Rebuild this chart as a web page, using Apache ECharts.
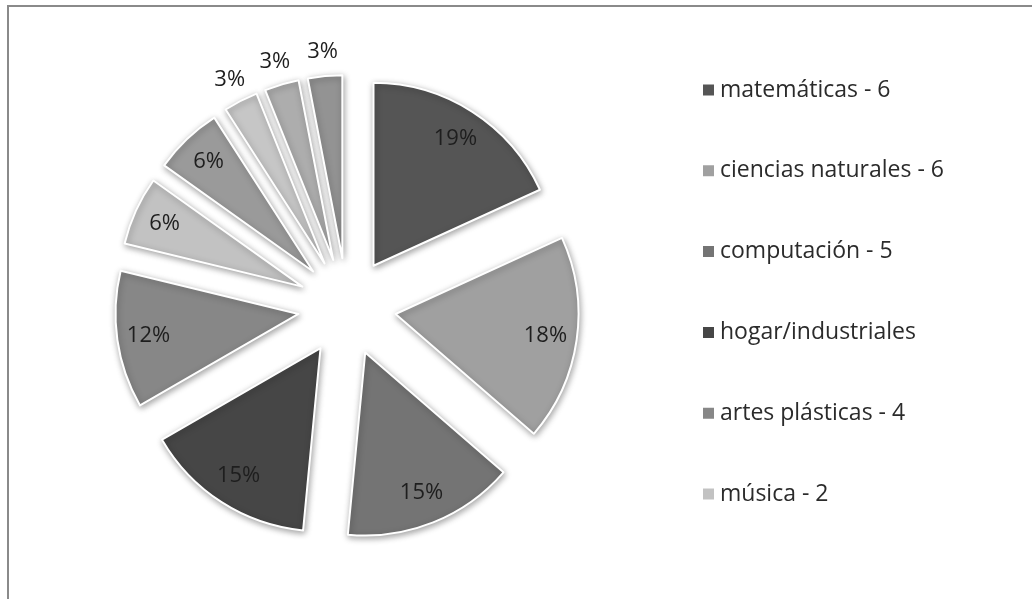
<!DOCTYPE html>
<html>
<head>
<meta charset="utf-8">
<script src="https://cdn.jsdelivr.net/npm/echarts@6/dist/echarts.min.js"></script>
<style>
html,body{margin:0;padding:0;background:#fff;}
#chart{width:1032px;height:599px;}
</style>
</head>
<body>
<div id="chart"></div>
<script>
// Data (legend shows only the first six categories)
const categories = ['matemáticas - 6', 'ciencias naturales - 6', 'computación - 5', 'hogar/industriales', 'artes plásticas - 4', 'música - 2', 'otra 7', 'otra 8', 'otra 9', 'otra 10'];
const values = [6, 6, 5, 5, 4, 2, 2, 1, 1, 1];
const legendItems = categories.slice(0, 6);
const sliceColors = ['#555555', '#a0a0a0', '#747474', '#464646', '#878787', '#c2c2c2', '#9a9a9a', '#c6c6c6', '#adadad', '#939393'];

const FONT = '"Open Sans"';
const chart = echarts.init(document.getElementById('chart'), null, {renderer: 'canvas'});

const center = [347, 307];
const offset = 49;

function isSmall(v) { return v <= 1; }

const mainData = categories.map((n, i) => ({name: n, value: values[i], selected: true, itemStyle: {color: sliceColors[i]}}));
const innerLabelData = categories.map((n, i) => ({name: n, value: values[i], selected: true, label: {show: !isSmall(values[i])}}));
const outerLabelData = categories.map((n, i) => ({name: n, value: values[i], selected: true, label: {show: isSmall(values[i])}}));

const labelStyle = {
  position: 'inside',
  formatter: '{d}%',
  fontFamily: FONT,
  fontSize: 22,
  color: '#1e1e1e'
};
const transparentItem = {color: 'rgba(0,0,0,0)', borderWidth: 0};

chart.setOption({
  animation: false,
  backgroundColor: '#fff',
  graphic: [{
    type: 'rect',
    shape: {x: 8, y: 6, width: 1100, height: 700},
    style: {fill: 'none', stroke: '#8a8a8a', lineWidth: 2},
    silent: true, z: -10
  }],
  legend: {
    data: legendItems,
    orient: 'vertical',
    left: 701,
    top: 78,
    padding: 0,
    itemWidth: 13,
    itemHeight: 13,
    itemGap: 56.8,
    icon: 'rect',
    selectedMode: false,
    textStyle: {fontFamily: FONT, fontSize: 23, lineHeight: 24, color: '#2b2b2b'}
  },
  series: [
    {
      type: 'pie',
      center: center,
      radius: [0, 183],
      startAngle: 90,
      clockwise: true,
      selectedMode: 'multiple',
      selectedOffset: offset,
      percentPrecision: 0,
      avoidLabelOverlap: false,
      label: {show: false},
      labelLine: {show: false},
      itemStyle: {borderColor: '#ffffff', borderWidth: 2, shadowBlur: 6, shadowColor: 'rgba(0,0,0,0.35)', shadowOffsetX: 1, shadowOffsetY: 2},
      select: {itemStyle: {borderColor: '#ffffff', borderWidth: 2}},
      emphasis: {disabled: true},
      data: mainData
    },
    {
      type: 'pie',
      center: center,
      radius: [112, 185],
      startAngle: 90,
      clockwise: true,
      selectedMode: 'multiple',
      selectedOffset: offset,
      percentPrecision: 0,
      avoidLabelOverlap: false,
      silent: true,
      z: 5,
      label: labelStyle,
      labelLine: {show: false},
      itemStyle: transparentItem,
      select: {itemStyle: transparentItem},
      emphasis: {disabled: true},
      data: innerLabelData
    },
    {
      type: 'pie',
      center: center,
      radius: [194, 214],
      startAngle: 90,
      clockwise: true,
      selectedMode: 'multiple',
      selectedOffset: offset,
      percentPrecision: 0,
      avoidLabelOverlap: false,
      silent: true,
      z: 5,
      label: labelStyle,
      labelLine: {show: false},
      itemStyle: transparentItem,
      select: {itemStyle: transparentItem},
      emphasis: {disabled: true},
      data: outerLabelData
    }
  ]
});
</script>
</body>
</html>
